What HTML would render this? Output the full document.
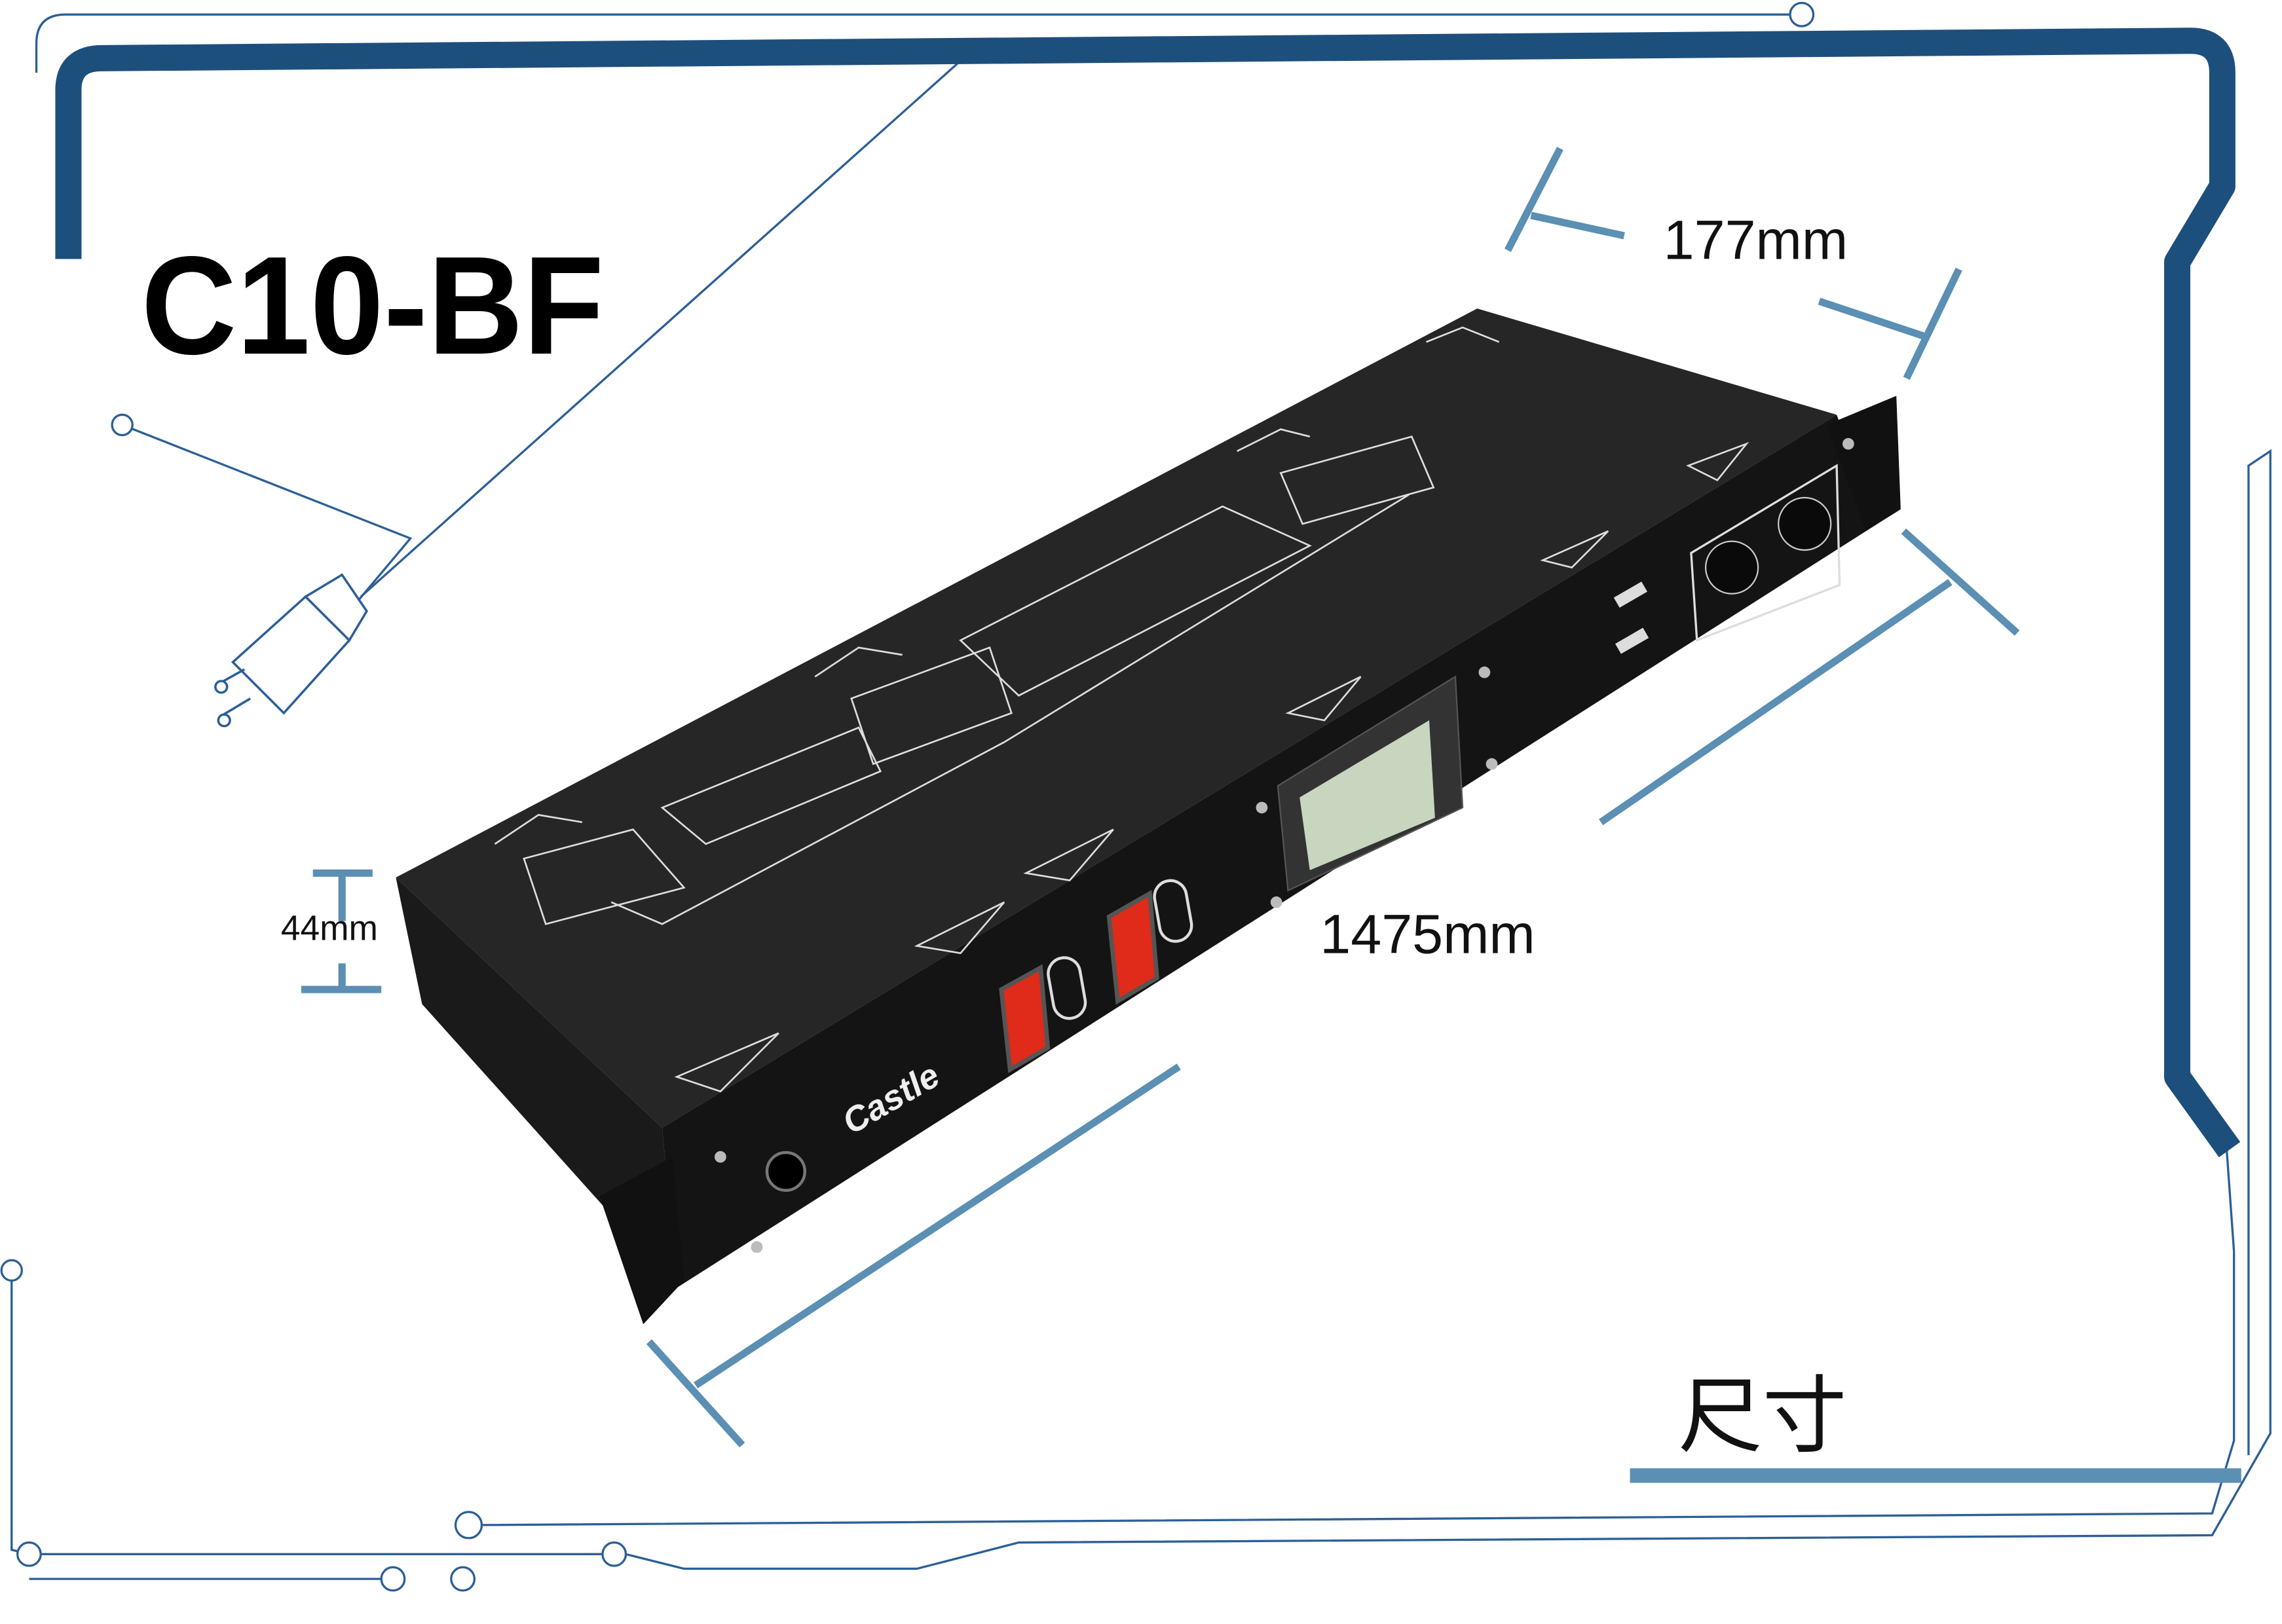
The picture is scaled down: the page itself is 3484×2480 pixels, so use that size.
<!DOCTYPE html>
<html><head><meta charset="utf-8"><style>
html,body{margin:0;padding:0;background:#fff;}
svg{display:block;}
</style></head><body>
<svg width="3484" height="2480" viewBox="0 0 1568 1116" preserveAspectRatio="none" xmlns="http://www.w3.org/2000/svg">
<rect width="1568" height="1116" fill="#fff"/>
<g fill="none" stroke="#2d5f96" stroke-width="1.5">
<path d="M1230,10 L45,10 Q25,10 25,30 L25,50"/>
<circle cx="1238" cy="10" r="8" fill="#fff"/>
<path d="M8,870 L8,1065 L20,1068"/>
<circle cx="8" cy="873" r="7" fill="#fff"/>
<path d="M20,1068 L414,1068"/>
<circle cx="20" cy="1068" r="8" fill="#fff"/>
<path d="M20,1085 L262,1085"/>
<circle cx="270" cy="1085" r="8" fill="#fff"/>
<circle cx="318" cy="1085" r="8" fill="#fff"/>
<path d="M330,1048 L1520,1040 L1535,990 L1535,860"/>
<circle cx="322" cy="1048" r="9" fill="#fff"/>
<path d="M430,1068 L470,1078 L630,1078 L700,1060 L1520,1055 L1560,985 L1560,310 L1545,320 L1545,1000"/>
<circle cx="422" cy="1068" r="8" fill="#fff"/>
<path d="M84,292 L282,370 L240,420"/>
<circle cx="84" cy="292" r="7" fill="#fff"/>
<path d="M662,40 L248,410"/>
<path d="M1530,790 L1535,860"/>
</g>
<path d="M47,178 L47,62 Q47,40 70,40 L1505,28 Q1527,28 1527,50 L1527,128 L1496,180 L1496,740 L1532,790" fill="none" stroke="#1d4f7c" stroke-width="18" stroke-linejoin="round"/>
<text x="97" y="243" font-family="Liberation Sans, sans-serif" font-size="96" font-weight="bold" fill="#000" textLength="318" lengthAdjust="spacingAndGlyphs">C10-BF</text>
<g fill="#fff" stroke="#2d5f96" stroke-width="1.6">
<path d="M160,455 L210,410 L240,440 L195,490 Z"/>
<path d="M210,410 L235,395 L252,420 L240,440 Z"/>
<path d="M150,470 L168,460 M152,492 L172,480"/>
<circle cx="154" cy="495" r="4"/><circle cx="152" cy="472" r="4"/>
</g>
<polygon points="272,603 1015,212 1262,285 455,775" fill="#262626"/>
<polygon points="272,603 455,775 465,885 290,690" fill="#1a1a1a"/>
<polygon points="455,775 1262,285 1290,360 465,885" fill="#141414"/>
<polygon points="412,822 462,795 470,880 442,910" fill="#111"/>
<polygon points="1255,292 1303,272 1306,350 1282,365" fill="#111"/>
<g fill="none" stroke="#ddd" stroke-width="1.2">
<polygon points="360,590 435,570 470,610 375,635"/>
<polygon points="455,555 590,500 605,530 485,580"/>
<polygon points="660,440 840,348 900,375 700,478"/>
<polygon points="585,480 680,445 695,490 600,525"/>
<polygon points="880,325 970,300 985,335 895,360"/>
<path d="M420,620 L455,635 L690,510 L968,340"/>
<path d="M340,580 L370,560 L400,565 M560,465 L590,445 L620,450 M850,310 L880,295 L900,300 M980,235 L1005,225 L1030,235"/>
<path d="M465,740 L535,710 L495,750 Z M630,650 L690,620 L660,655 Z M705,600 L765,570 L735,605 Z M885,490 L935,465 L910,495 Z M1060,385 L1105,365 L1080,390 Z M1160,320 L1200,305 L1180,330 Z"/>
</g>
<polygon points="1162,380 1262,320 1264,402 1166,440" fill="none" stroke="#ddd" stroke-width="1.5"/>
<circle cx="1190" cy="390" r="18" fill="#0a0a0a" stroke="#ccc"/>
<circle cx="1240" cy="360" r="18" fill="#0a0a0a" stroke="#ccc"/>
<polygon points="878,540 1000,465 1005,555 885,612" fill="#333" stroke="#555"/>
<polygon points="893,548 982,495 986,562 900,598" fill="#c8d6c0"/>
<polygon points="688,680 715,665 720,720 694,735" fill="#e02a1a" stroke="#555" stroke-width="3"/>
<polygon points="762,630 790,614 795,672 768,688" fill="#e02a1a" stroke="#555" stroke-width="3"/>
<rect x="722" y="658" width="22" height="42" rx="11" fill="none" stroke="#ddd" stroke-width="2" transform="rotate(-10 733 679)"/>
<rect x="795" y="605" width="22" height="42" rx="11" fill="none" stroke="#ddd" stroke-width="2" transform="rotate(-10 806 626)"/>
<text x="585" y="780" font-family="Liberation Sans, sans-serif" font-size="24" font-weight="bold" font-style="italic" fill="#eee" transform="rotate(-30 585 780)">Castle</text>
<circle cx="540" cy="805" r="13" fill="#000" stroke="#777" stroke-width="2"/>
<g fill="#bbb"><circle cx="495" cy="795" r="4"/><circle cx="520" cy="857" r="4"/><circle cx="867" cy="555" r="4"/><circle cx="877" cy="620" r="4"/><circle cx="1020" cy="462" r="4"/><circle cx="1025" cy="525" r="4"/><circle cx="1270" cy="305" r="4"/></g>
<g fill="#ddd"><rect x="1110" y="405" width="22" height="8" transform="rotate(-30 1120 410)"/><rect x="1110" y="437" width="22" height="8" transform="rotate(-30 1120 440)"/></g>
<g stroke="#5b8fb3" stroke-width="5" fill="none">
<path d="M1072,102 L1036,172 M1052,148 L1116,162"/>
<path d="M1346,185 L1310,260 M1250,207 L1325,232"/>
<path d="M1308,365 L1386,435 M1100,565 L1340,400"/>
<path d="M446,922 L510,993 M478,952 L810,733"/>
<path d="M215,600 L256,600 M235,600 L235,633 M235,662 L235,680 M207,680 L262,680"/>
</g>
<g font-family="Liberation Sans, sans-serif" fill="#111">
<text x="1143" y="178" font-size="38">177mm</text>
<text x="907" y="655" font-size="38">1475mm</text>
<text x="193" y="646" font-size="24">44mm</text>
<text x="1153" y="993" font-size="58" font-family="Liberation Sans, 'Noto Sans CJK TC', sans-serif">尺寸</text>
</g>
<rect x="1120" y="1009" width="420" height="10" fill="#5b8fb3"/>
</svg>
</body></html>
